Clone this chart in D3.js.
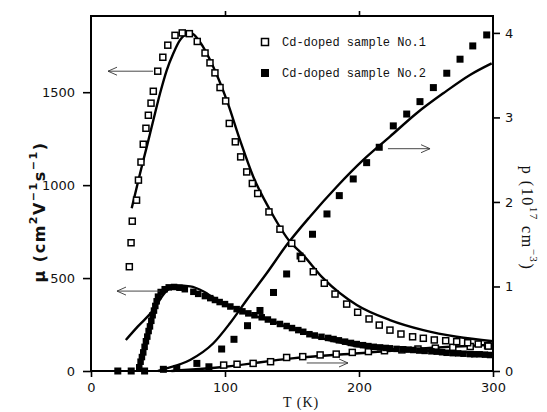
<!DOCTYPE html>
<html>
<head>
<meta charset="utf-8">
<script src="https://cdn.jsdelivr.net/npm/d3@7"></script>
<style>
  body { margin: 0; background: #fff; }
</style>
</head>
<body>
<div id="chart"></div>
<script>
// sample No.1 mobility (open squares, left axis)
var s1MuT = [28.6, 29.9, 30.8, 34, 35.4, 37.3, 39, 41, 42.8, 44.8, 46.5, 49.8, 53.6, 57.3, 62.7, 68.1, 73.4, 79.3, 85.1, 88.8,
             92.5, 96.3, 100.5, 103.2, 107.7, 111.7, 116.2, 120.4, 124.4, 132.8, 141, 149.8, 157.2, 165.9, 174.1, 182.1, 190.8, 199, 207.5, 215.1,
             223.1, 231.3, 240, 248, 256.2, 264.7, 272.9, 281.1, 289, 296.5];
var s1Mu  = [561, 690, 806, 919, 1027, 1124, 1220, 1306, 1376, 1441, 1505, 1613, 1688, 1753, 1806, 1819, 1815, 1773, 1711, 1658,
             1604, 1525, 1453, 1332, 1233, 1152, 1071, 1009, 955, 856, 763, 687, 606, 534, 472, 414, 360, 316, 280, 247,
             220, 199, 184, 176, 167, 163, 158, 152, 145, 134];
// sample No.1 mobility fit
var s1MuFitT = [30.4, 36.6, 41.6, 46.5, 51.5, 56.5, 61.4, 66.4, 71.4, 75.1, 81.3, 91.3, 101.3, 111.2, 121.1, 133.6, 148.5, 157.2, 173.4, 198.3, 223.1, 248, 272.9, 300];
var s1MuFit  = [876, 1063, 1206, 1349, 1493, 1618, 1708, 1780, 1812, 1816, 1770, 1636, 1457, 1242, 1045, 866, 695, 633, 498, 355, 274, 220, 184, 160];

// sample No.2 mobility (filled squares, left axis)
var s2MuT = [36, 37, 38, 39, 40, 41, 42, 43, 44, 45, 46, 47, 48, 49, 50, 52, 55, 58, 62, 66, 70, 76.4, 80, 85, 89, 92.5, 96, 100, 104,
             108.7, 113, 117.4, 122, 127.4, 132, 136, 141, 146, 150, 154.7, 158.4, 163, 167, 172, 177, 181, 185, 189.6, 194, 198.3,
             203, 207, 211, 215.7, 220, 223, 228, 233, 237, 240.5, 245, 249, 254, 258, 262, 265.4, 270, 274, 278, 282.8, 286, 290, 294, 297.8];
var s2Mu  = [20, 50, 75, 100, 130, 160, 185, 215, 240, 270, 300, 325, 350, 375, 400, 425, 440, 450, 452, 448, 440, 426, 415, 403, 392, 382, 371, 360, 347,
             333, 321, 310, 300, 289, 277, 265, 253, 242, 231, 220, 211, 198, 191, 184, 178, 172, 165, 158, 151, 145,
             139, 134, 130, 127, 124, 122, 119, 117, 115, 113, 110, 108, 106, 104, 101, 98, 96, 95, 93, 91, 90, 90, 88, 86];
// sample No.2 mobility fit
var s2MuFitT = [26, 35, 46.5, 55, 64, 74, 84, 91.3, 100, 108.7, 120, 133.6, 145, 158.4, 170, 183.4, 200.7, 220, 238, 260, 280, 300];
var s2MuFit  = [167, 240, 328, 420, 460, 455, 428, 395, 362, 335, 300, 274, 240, 211, 180, 158, 131, 120, 113, 106, 100, 95];

// sample No.1 hole concentration (open squares, right axis)
var s1PT = [99, 109, 121, 134, 146, 158, 171, 183, 195, 207, 219, 232, 244, 257, 270, 283, 296];
var s1P  = [0.07, 0.08, 0.09, 0.11, 0.16, 0.17, 0.19, 0.2, 0.22, 0.23, 0.24, 0.25, 0.26, 0.27, 0.28, 0.29, 0.3];
var s1PFitT = [60, 100, 150, 200, 250, 300];
var s1PFit  = [0, 0.05, 0.15, 0.21, 0.27, 0.31];

// sample No.2 hole concentration (filled squares, right axis)
var s2PT = [20, 30, 40, 54, 64, 79, 88, 97.5, 106.7, 116.8, 126.1, 136.2, 146, 156, 165.3, 176.1, 185.3, 195.7, 205.7, 215.1,
            225.6, 235.6, 245.5, 255.5, 265.5, 275.4, 284.9, 295.3];
var s2P  = [0, 0, 0, 0.02, 0.03, 0.09, 0.05, 0.26, 0.375, 0.536, 0.716, 0.929, 1.148, 1.36, 1.618, 1.858, 2.075, 2.272, 2.465, 2.647,
            2.9, 3.04, 3.187, 3.353, 3.523, 3.689, 3.846, 3.976];
var s2PFitT = [50, 54, 73.9, 91.3, 103.7, 116.2, 131.1, 146, 163.4, 183.4, 203.2, 223.1, 243, 262.9, 282.8, 299];
var s2PFit  = [0, 0.02, 0.13, 0.328, 0.565, 0.84, 1.156, 1.49, 1.826, 2.18, 2.497, 2.773, 3.05, 3.286, 3.503, 3.64];

var xTicks = [0, 100, 200, 300];
var muTicks = [0, 500, 1000, 1500];
var pTicks = [0, 1, 2, 3, 4];
var legendLabels = ["Cd-doped sample No.1", "Cd-doped sample No.2"];

// arrows: [T start, T end, value, axis]
var arrows = [
    [46.3, 12.7, 1613, "mu"],
    [51.5, 19.4, 430, "mu"],
    [221.6, 253, 2.63, "p"],
    [161, 191.8, 0.095, "p"]
];

function zip(a, b) { return a.map(function(d, i) { return {x: d, y: b[i]}; }); }

var margin = {top: 16, right: 54, bottom: 41, left: 91},
    width = 402,
    height = 355;

var svg = d3.select("#chart")
    .append("svg")
    .attr("width", 547)
    .attr("height", 412)
    .append("g")
    .attr("transform", "translate(" + margin.left + "," + margin.top + ")");

var x = d3.scaleLinear().domain([0, 300]).range([0, width]);
var yMu = d3.scaleLinear().domain([0, 1910]).range([height, 0]);
var yP = d3.scaleLinear().domain([0, 4.2]).range([height, 0]);

var tickFont = "'DejaVu Sans', sans-serif";

function styleAxis(g) {
    g.selectAll(".domain").remove();
    g.selectAll(".tick line").attr("stroke", "#000").attr("stroke-width", 1.6);
    g.selectAll(".tick text")
        .attr("fill", "#111")
        .style("font-size", "13px")
        .style("font-family", tickFont);
}

svg.append("g")
    .attr("transform", "translate(0," + height + ")")
    .call(d3.axisBottom(x).tickValues(xTicks).tickSize(6).tickPadding(6).tickFormat(d3.format("d")))
    .call(styleAxis);

svg.append("g")
    .call(d3.axisTop(x).tickValues([100, 200]).tickSize(5).tickFormat(""))
    .call(styleAxis);

svg.append("g")
    .call(d3.axisLeft(yMu).tickValues(muTicks).tickSize(8).tickPadding(8).tickFormat(d3.format("d")))
    .call(styleAxis);

svg.append("g")
    .attr("transform", "translate(" + width + ",0)")
    .call(d3.axisRight(yP).tickValues(pTicks).tickSize(7).tickPadding(5).tickFormat(d3.format("d")))
    .call(styleAxis);

// frame
svg.append("rect")
    .attr("x", 0).attr("y", 0)
    .attr("width", width).attr("height", height)
    .attr("fill", "none")
    .attr("stroke", "#000")
    .attr("stroke-width", 2);

// fit lines
var lineMu = d3.line().x(function(d) { return x(d.x); }).y(function(d) { return yMu(d.y); }).curve(d3.curveMonotoneX);
var lineP = d3.line().x(function(d) { return x(d.x); }).y(function(d) { return yP(d.y); }).curve(d3.curveMonotoneX);

[[zip(s1MuFitT, s1MuFit), lineMu], [zip(s2MuFitT, s2MuFit), lineMu],
 [zip(s1PFitT, s1PFit), lineP], [zip(s2PFitT, s2PFit), lineP]].forEach(function(f) {
    svg.append("path")
        .datum(f[0])
        .attr("fill", "none")
        .attr("stroke", "#000")
        .attr("stroke-width", 2.4)
        .attr("d", f[1]);
});

// markers
function openSquares(data, y) {
    svg.append("g").selectAll("rect")
        .data(data).enter().append("rect")
        .attr("x", function(d) { return x(d.x) - 3; })
        .attr("y", function(d) { return y(d.y) - 3; })
        .attr("width", 6).attr("height", 6)
        .attr("fill", "#fff")
        .attr("stroke", "#000")
        .attr("stroke-width", 1.5);
}
function filledSquares(data, y, s) {
    svg.append("g").selectAll("rect")
        .data(data).enter().append("rect")
        .attr("x", function(d) { return x(d.x) - s / 2; })
        .attr("y", function(d) { return y(d.y) - s / 2; })
        .attr("width", s).attr("height", s)
        .attr("fill", "#000");
}

openSquares(zip(s1PT, s1P), yP);
filledSquares(zip(s2MuT, s2Mu), yMu, 6.5);
filledSquares(zip(s2PT, s2P), yP, 7);
openSquares(zip(s1MuT, s1Mu), yMu);

// arrows
arrows.forEach(function(a) {
    var yy = a[3] === "mu" ? yMu(a[2]) : yP(a[2]);
    var x0 = x(a[0]), x1 = x(a[1]);
    var dir = x1 < x0 ? 1 : -1;
    svg.append("path")
        .attr("d", "M" + x0 + "," + yy + "H" + x1 +
            "M" + (x1 + dir * 9) + "," + (yy - 4) + "L" + x1 + "," + yy + "L" + (x1 + dir * 9) + "," + (yy + 4))
        .attr("fill", "none")
        .attr("stroke", "#333")
        .attr("stroke-width", 0.9);
});

// legend
legendLabels.forEach(function(t, i) {
    var ly = 26 + i * 31;
    if (i === 0) {
        svg.append("rect").attr("x", 170.5).attr("y", ly - 3.5).attr("width", 7).attr("height", 7)
            .attr("fill", "#fff").attr("stroke", "#000").attr("stroke-width", 1.5);
    } else {
        svg.append("rect").attr("x", 170).attr("y", ly - 4).attr("width", 8).attr("height", 8)
            .attr("fill", "#000");
    }
    svg.append("text")
        .attr("x", 191)
        .attr("y", ly + 4)
        .style("font-family", "'Liberation Mono', monospace")
        .style("font-size", "12px")
        .attr("fill", "#111")
        .text(t);
});

// axis titles
svg.append("text")
    .attr("x", 192)
    .attr("y", height + 36)
    .style("font-family", "'Liberation Serif', serif")
    .style("font-size", "14px")
    .style("letter-spacing", "1px")
    .attr("fill", "#111")
    .text("T (K)");

var muLabel = svg.append("text")
    .attr("transform", "translate(-46," + 196 + ") rotate(-90)")
    .attr("text-anchor", "middle")
    .style("font-family", "'DejaVu Sans', sans-serif")
    .style("font-size", "16px")
    .style("font-weight", "bold")
    .style("letter-spacing", "1.5px")
    .attr("fill", "#111");
muLabel.append("tspan").text("μ (cm");
muLabel.append("tspan").attr("dy", -8).style("font-size", "11px").text("2");
muLabel.append("tspan").attr("dy", 8).text("V");
muLabel.append("tspan").attr("dy", -8).style("font-size", "11px").text("−1");
muLabel.append("tspan").attr("dy", 8).text("s");
muLabel.append("tspan").attr("dy", -8).style("font-size", "11px").text("−1");
muLabel.append("tspan").attr("dy", 8).text(")");

var pLabel = svg.append("text")
    .attr("transform", "translate(" + (width + 29) + "," + 202 + ") rotate(90)")
    .attr("text-anchor", "middle")
    .style("font-family", "'Liberation Serif', serif")
    .style("font-size", "16px")
    .style("letter-spacing", "1.5px")
    .attr("fill", "#111");
pLabel.append("tspan").text("p (10");
pLabel.append("tspan").attr("dy", -8).style("font-size", "11px").text("17");
pLabel.append("tspan").attr("dy", 8).text(" cm");
pLabel.append("tspan").attr("dy", -8).style("font-size", "11px").text("−3");
pLabel.append("tspan").attr("dy", 8).text(")");
</script>
</body>
</html>
